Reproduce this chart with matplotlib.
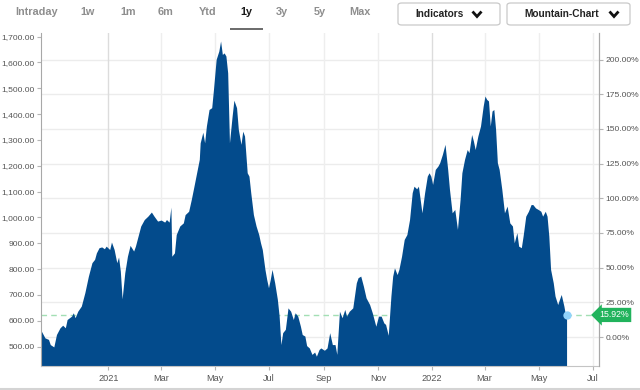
import matplotlib
matplotlib.use('Agg')
import matplotlib.pyplot as plt
import matplotlib.transforms as mtransforms
from matplotlib.patches import FancyBboxPatch, Rectangle
from matplotlib.lines import Line2D
from matplotlib.ticker import FuncFormatter
import pandas as pd

plt.rcParams['font.family'] = ['Liberation Sans', 'DejaVu Sans']

# ---------------- data ----------------
dates = [
 "2020-10-18","2020-10-22","2020-10-26","2020-10-28","2020-11-01","2020-11-04","2020-11-08","2020-11-11",
 "2020-11-14","2020-11-16","2020-11-21","2020-11-23","2020-11-25","2020-11-28","2020-12-02","2020-12-06",
 "2020-12-10","2020-12-14","2020-12-17","2020-12-19","2020-12-22","2020-12-25","2020-12-28","2020-12-30",
 "2021-01-03","2021-01-05","2021-01-08","2021-01-11","2021-01-13","2021-01-15","2021-01-17","2021-01-20",
 "2021-01-23","2021-01-26","2021-01-30","2021-02-01","2021-02-04","2021-02-07","2021-02-11","2021-02-15",
 "2021-02-19","2021-02-22","2021-02-26","2021-03-02","2021-03-06","2021-03-08","2021-03-11","2021-03-13",
 "2021-03-14","2021-03-17","2021-03-19","2021-03-23","2021-03-27","2021-03-29","2021-04-02","2021-04-05",
 "2021-04-08","2021-04-11","2021-04-14","2021-04-15","2021-04-18","2021-04-20","2021-04-22","2021-04-25",
 "2021-04-28","2021-04-30","2021-05-03","2021-05-06","2021-05-08","2021-05-10","2021-05-12","2021-05-14",
 "2021-05-16","2021-05-18","2021-05-21","2021-05-23","2021-05-26","2021-05-28","2021-05-31","2021-06-02",
 "2021-06-04","2021-06-07","2021-06-09","2021-06-11","2021-06-14","2021-06-17","2021-06-20","2021-06-22",
 "2021-06-24","2021-06-27","2021-06-29","2021-07-01","2021-07-03","2021-07-05","2021-07-08","2021-07-11",
 "2021-07-13","2021-07-15","2021-07-17","2021-07-20","2021-07-23","2021-07-26","2021-07-29","2021-07-31",
 "2021-08-03","2021-08-06","2021-08-08","2021-08-11","2021-08-13","2021-08-16","2021-08-19","2021-08-22",
 "2021-08-24","2021-08-27","2021-08-29","2021-09-02","2021-09-05","2021-09-08","2021-09-11","2021-09-14",
 "2021-09-16","2021-09-19","2021-09-22","2021-09-25","2021-09-27","2021-09-30","2021-10-04","2021-10-08",
 "2021-10-10","2021-10-13","2021-10-16","2021-10-19","2021-10-23","2021-10-26","2021-10-30","2021-11-02",
 "2021-11-05","2021-11-08","2021-11-10","2021-11-13","2021-11-16","2021-11-18","2021-11-20","2021-11-23",
 "2021-11-25","2021-11-28","2021-12-01","2021-12-04","2021-12-07","2021-12-10","2021-12-12","2021-12-15",
 "2021-12-17","2021-12-21","2021-12-24","2021-12-27","2021-12-29","2021-12-31","2022-01-02","2022-01-05",
 "2022-01-08","2022-01-10","2022-01-13","2022-01-16","2022-01-19","2022-01-21","2022-01-24","2022-01-27",
 "2022-01-30","2022-02-02","2022-02-04","2022-02-07","2022-02-10","2022-02-12","2022-02-15","2022-02-17",
 "2022-02-19","2022-02-22","2022-02-25","2022-02-28","2022-03-02","2022-03-04","2022-03-06","2022-03-08",
 "2022-03-10","2022-03-12","2022-03-14","2022-03-16","2022-03-18","2022-03-21","2022-03-24","2022-03-27",
 "2022-03-30","2022-04-02","2022-04-04","2022-04-07","2022-04-09","2022-04-12","2022-04-14","2022-04-17",
 "2022-04-20","2022-04-23","2022-04-25","2022-04-28","2022-05-01","2022-05-04","2022-05-06","2022-05-09",
 "2022-05-11","2022-05-13","2022-05-15","2022-05-18","2022-05-20","2022-05-23","2022-05-25","2022-05-27",
 "2022-05-30","2022-06-01","2022-06-02",
]
prices = [
 558,532,526,506,497,545,571,581,
 571,603,616,629,610,635,655,707,
 771,823,836,861,881,884,877,887,
 874,903,874,823,845,790,683,784,
 848,890,868,887,926,965,990,1003,
 1019,1003,984,988,980,990,980,1038,
 848,861,932,965,977,1009,1022,1068,
 1119,1171,1223,1287,1328,1287,1352,1416,
 1423,1494,1610,1642,1681,1629,1635,1623,
 1558,1287,1390,1452,1423,1339,1281,1332,
 1313,1171,1158,1094,1009,965,932,900,
 874,797,758,726,758,797,745,681,
 616,506,552,565,648,635,603,629,
 616,577,545,539,502,493,468,477,
 461,487,493,484,493,552,506,506,
 468,635,610,642,616,635,648,745,
 765,771,732,687,661,629,577,616,
 616,590,584,542,694,771,803,777,
 797,848,913,932,990,1094,1119,1109,
 1119,1016,1094,1158,1171,1158,1126,1184,
 1197,1210,1242,1281,1184,1107,1016,1029,
 952,1068,1171,1223,1261,1249,1319,1294,
 1261,1313,1352,1429,1468,1455,1449,1352,
 1410,1416,1339,1210,1184,1107,1016,1042,
 977,965,900,939,887,881,926,1003,
 1022,1048,1048,1035,1029,1022,1003,1022,
 1003,926,797,745,694,661,681,700,
 655,616,622.6,
]
pct_change = 15.92  # change of last price vs reference
left_ticks = [500, 600, 700, 800, 900, 1000, 1100, 1200, 1300, 1400, 1500, 1600, 1700]
right_ticks = [0, 25, 50, 75, 100, 125, 150, 175, 200]
x_ticks = ["2021-01-01", "2021-03-01", "2021-05-01", "2021-07-01", "2021-09-01",
           "2021-11-01", "2022-01-01", "2022-03-01", "2022-05-01", "2022-07-01"]
tabs = ["Intraday", "1w", "1m", "6m", "Ytd", "1y", "3y", "5y", "Max"]
active_tab = "1y"
buttons = ["Indicators", "Mountain-Chart"]

x = pd.to_datetime(dates)
last_price = prices[-1]
base = last_price / (1 + pct_change / 100)

# ---------------- figure ----------------
W, H = 640, 390
fig = plt.figure(figsize=(W / 100, H / 100), dpi=100)
fig.patch.set_facecolor('white')

def fx(px):
    return px / W

def fy(py):
    return 1 - py / H

ax = fig.add_axes([fx(41), fy(366), fx(599 - 41), (366 - 33) / H])
ax.set_facecolor('white')

ymin, ymax = 425, 1714
ax.set_ylim(ymin, ymax)
ax.set_xlim(pd.Timestamp('2020-10-17'), pd.Timestamp('2022-07-08'))

for p in right_ticks:
    ax.axhline(base * (1 + p / 100), color='#ececec', lw=1, zorder=0)

xt = pd.to_datetime(x_ticks)
ax.set_xticks(xt)
ax.set_xticklabels([d.strftime('%Y') if d.month == 1 else d.strftime('%b') for d in xt])
for d in xt:
    ax.axvline(d, color='#dcdcdc' if d.month == 1 else '#eeeeee', lw=1, zorder=0)

ax.axhline(last_price, color='#a3dfb4', lw=1, ls=(0, (4, 3)), zorder=1)

ax.fill_between(x, prices, 0, color='#034b8c', lw=0, zorder=2)
ax.plot([x[-1]], [last_price], 'o', ms=6, color='#91d3fb', mec='none', zorder=5, clip_on=False)

ax.set_yticks(left_ticks)
ax.yaxis.set_major_formatter(FuncFormatter(lambda v, p: f'{v:,.2f}'))
ax.tick_params(axis='y', labelsize=6.1, colors='#555555', length=3, width=0.8, pad=1.5)
ax.tick_params(axis='x', labelsize=6.6, colors='#555555', length=3, width=0.8, pad=3)
ax.tick_params(axis='both', color='#b5b5b5')

ax.spines['top'].set_visible(False)
ax.spines['left'].set_color('#a8a8a8')
ax.spines['bottom'].set_color('#c4c4c4')
ax.spines['right'].set_color('#a8a8a8')

ax2 = ax.twinx()
ax2.set_ylim((ymin / base - 1) * 100, (ymax / base - 1) * 100)
ax2.set_yticks(right_ticks)
ax2.yaxis.set_major_formatter(FuncFormatter(lambda v, p: f'{v:.2f}%'))
ax2.tick_params(axis='y', labelsize=6.1, colors='#555555', length=3, width=0.8, pad=1.5)
ax2.tick_params(axis='y', color='#b5b5b5')
for s in ['top', 'left', 'bottom']:
    ax2.spines[s].set_visible(False)
ax2.spines['right'].set_color('#a8a8a8')

trans = mtransforms.blended_transform_factory(ax.transAxes, ax2.transData)
ax2.text(1.0, pct_change, f'{pct_change:.2f}%', transform=trans, ha='left', va='center',
         fontsize=6.3, color='white', zorder=10,
         bbox=dict(boxstyle='larrow,pad=0.3', fc='#21b35c', ec='none'))

# ---------------- header ----------------
tab_x = [36, 88, 128, 165, 208, 246, 282, 320, 360]
for t, cx in zip(tabs, tab_x):
    active = (t == active_tab)
    fig.text(fx(cx), fy(12), t, ha='center', va='center', fontsize=7.8,
             fontweight='bold', color='#1a1a1a' if active else '#8e8e8e')
fig.add_artist(Rectangle((fx(230), fy(30)), fx(33), 2.5 / H, transform=fig.transFigure,
                         color='#6e6e6e', lw=0))

btn_box = [(398, 500), (507, 630)]
btn_text_x = [440, 562]
chev_x = [477, 614]
for b, (x0, x1), tx, cx in zip(buttons, btn_box, btn_text_x, chev_x):
    fig.add_artist(FancyBboxPatch((fx(x0), fy(25)), fx(x1 - x0), 22 / H,
                                  boxstyle='round,pad=0,rounding_size=0.006',
                                  transform=fig.transFigure, fc='white', ec='#c9c9c9', lw=0.9))
    fig.text(fx(tx), fy(14), b, ha='center', va='center', fontsize=7.3,
             fontweight='bold', color='#222222')
    fig.add_artist(Line2D([fx(cx - 4.5), fx(cx), fx(cx + 4.5)], [fy(11.5), fy(16.5), fy(11.5)],
                          transform=fig.transFigure, color='#111111', lw=2,
                          solid_capstyle='butt', solid_joinstyle='miter'))

fig.add_artist(Line2D([0, 1], [fy(388.5), fy(388.5)], transform=fig.transFigure,
                      color='#d4d4d4', lw=1.5))

fig.savefig('out.png', dpi=100)
